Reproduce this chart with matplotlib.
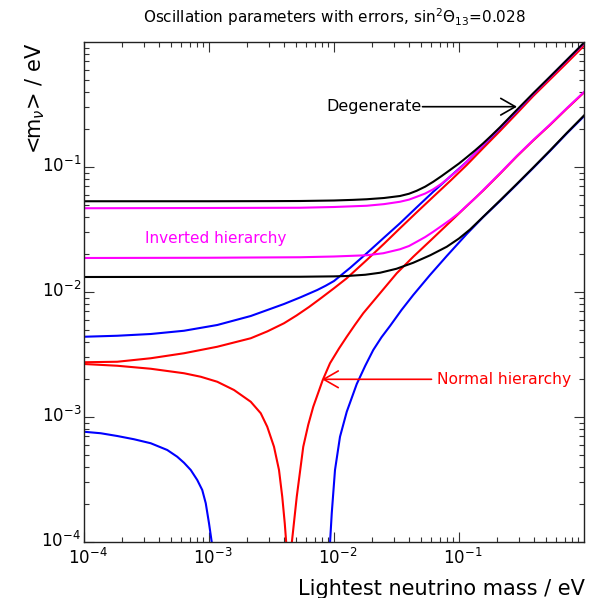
import numpy as np
import matplotlib
matplotlib.use("Agg")
import matplotlib.pyplot as plt
import matplotlib.transforms as mtransforms
from matplotlib.patches import ArrowStyle

# Effective Majorana mass <m_nu> versus the lightest neutrino mass.
# All curves are stored as log10 of the mass in eV (x: lightest mass, y: <m_nu>).

# Inverted hierarchy, outer band (black) and central band (magenta)
ih_max_ext_lx = [-4.0, -3.0, -2.5, -2.272, -2.0, -1.85, -1.738, -1.6, -1.472, -1.4, -1.338,
                 -1.27, -1.206, -1.14, -1.072, -1.0, -0.938, -0.87, -0.806, -0.74, -0.672,
                 -0.538, -0.406, -0.272, -0.138, 0.0]
ih_max_ext_ly = [-1.274, -1.274, -1.273, -1.272, -1.268, -1.263, -1.258, -1.248, -1.232, -1.214,
                 -1.190, -1.157, -1.118, -1.073, -1.024, -0.972, -0.922, -0.866, -0.810, -0.748,
                 -0.682, -0.544, -0.410, -0.278, -0.144, -0.006]

ih_max_lx = [-4.0, -3.0, -2.272, -2.0, -1.738, -1.6, -1.472, -1.4, -1.338, -1.27, -1.206,
             -1.14, -1.072, -1.0, -0.938, -0.858, -0.806, -0.74, -0.672, -0.538, -0.406,
             -0.272, -0.138, 0.0]
ih_max_ly = [-1.330, -1.328, -1.326, -1.320, -1.310, -1.297, -1.278, -1.261, -1.238, -1.212,
             -1.178, -1.134, -1.078, -1.018, -0.958, -0.876, -0.822, -0.754, -0.688, -0.550,
             -0.416, -0.284, -0.150, -0.012]

ih_min_lx = [-4.0, -3.0, -2.272, -2.0, -1.738, -1.606, -1.472, -1.4, -1.338, -1.27, -1.206,
             -1.14, -1.072, -1.0, -0.938, -0.87, -0.806, -0.74, -0.672, -0.538, -0.406,
             -0.272, -0.138, 0.0]
ih_min_ly = [-1.728, -1.726, -1.722, -1.716, -1.706, -1.690, -1.658, -1.632, -1.598, -1.560,
             -1.518, -1.472, -1.424, -1.368, -1.310, -1.248, -1.184, -1.118, -1.050, -0.912,
             -0.784, -0.660, -0.530, -0.400]

ih_min_ext_lx = [-4.0, -3.0, -2.272, -2.0, -1.898, -1.75, -1.632, -1.5, -1.366, -1.23, -1.098,
                 -1.0, -0.912, -0.8, -0.672, -0.538, -0.406, -0.272, -0.138, 0.0]
ih_min_ext_ly = [-1.880, -1.879, -1.878, -1.875, -1.872, -1.862, -1.846, -1.814, -1.766, -1.706,
                 -1.638, -1.572, -1.500, -1.392, -1.268, -1.136, -1.004, -0.868, -0.728, -0.588]

# Normal hierarchy, outer band (blue)
nh_max_ext_lx = [-4.0, -3.734, -3.466, -3.2, -2.934, -2.666, -2.4, -2.267, -2.134, -2.067, -2.0,
                 -1.87, -1.738, -1.6, -1.472, -1.34, -1.206, -1.07, -0.938, -0.806, -0.672,
                 -0.538, -0.406, -0.272, -0.138, 0.0]
nh_max_ext_ly = [-2.358, -2.350, -2.336, -2.310, -2.264, -2.192, -2.096, -2.042, -1.984, -1.950,
                 -1.912, -1.806, -1.690, -1.565, -1.450, -1.324, -1.198, -1.076, -0.958, -0.826,
                 -0.692, -0.554, -0.416, -0.280, -0.146, -0.008]

nh_min_ext_a_lx = [-4.0, -3.866, -3.734, -3.6, -3.466, -3.334, -3.254, -3.2, -3.146, -3.094,
                   -3.054, -3.026, -3.0, -2.978, -2.970]
nh_min_ext_a_ly = [-3.118, -3.130, -3.152, -3.178, -3.210, -3.264, -3.318, -3.366, -3.424, -3.504,
                   -3.584, -3.690, -3.850, -4.002, -5.0]

nh_min_ext_b_lx = [-2.036, -2.032, -2.018, -1.992, -1.952, -1.898, -1.818, -1.75, -1.686, -1.62,
                   -1.552, -1.46, -1.366, -1.232, -1.098, -0.938, -0.806, -0.672, -0.538,
                   -0.406, -0.272, -0.138, 0.0]
nh_min_ext_b_ly = [-5.0, -4.010, -3.770, -3.424, -3.158, -2.958, -2.736, -2.590, -2.464, -2.362,
                   -2.272, -2.144, -2.024, -1.864, -1.712, -1.536, -1.400, -1.272, -1.140,
                   -1.008, -0.872, -0.732, -0.594]

# Normal hierarchy, central band (red)
nh_max_lx = [-4.0, -3.734, -3.466, -3.2, -2.934, -2.666, -2.533, -2.4, -2.3, -2.2, -2.1, -2.0,
             -1.898, -1.738, -1.6, -1.472, -1.34, -1.206, -1.07, -0.938, -0.806, -0.672,
             -0.538, -0.406, -0.272, -0.138, 0.0]
nh_max_ly = [-2.562, -2.558, -2.530, -2.490, -2.438, -2.370, -2.315, -2.250, -2.188, -2.120,
             -2.046, -1.970, -1.890, -1.744, -1.614, -1.490, -1.364, -1.238, -1.111, -0.984,
             -0.848, -0.712, -0.572, -0.432, -0.300, -0.168, -0.030]

nh_min_a_lx = [-4.0, -3.734, -3.466, -3.2, -3.066, -2.934, -2.8, -2.666, -2.586, -2.534,
               -2.48, -2.44, -2.414, -2.394, -2.382, -2.376]
nh_min_a_ly = [-2.576, -2.590, -2.614, -2.650, -2.678, -2.718, -2.784, -2.878, -2.970, -3.078,
               -3.238, -3.424, -3.638, -3.850, -4.008, -5.0]

nh_min_b_lx = [-2.350, -2.338, -2.298, -2.246, -2.206, -2.166, -2.090, -2.032, -1.96, -1.898,
               -1.832, -1.766, -1.632, -1.498, -1.366, -1.232, -1.072, -0.938, -0.806, -0.672,
               -0.538, -0.406, -0.272, -0.138, 0.0]
nh_min_b_ly = [-5.0, -4.010, -3.638, -3.238, -3.062, -2.918, -2.704, -2.570, -2.452, -2.358,
               -2.262, -2.170, -2.010, -1.850, -1.718, -1.592, -1.440, -1.312, -1.188, -1.054,
               -0.916, -0.788, -0.664, -0.534, -0.404]

title_text = r"Oscillation parameters with errors, sin$^{2}\Theta_{13}$=0.028"
x_title = "Lightest neutrino mass / eV"
y_title = r"<m$_{\nu}$> / eV"

BLACK, MAGENTA, BLUE, RED = "#000000", "#ff00ff", "#0000ff", "#ff0000"
LW = 1.5

fig = plt.figure(figsize=(5.97, 5.98), dpi=100)
W, H = 597.0, 598.0
ax = fig.add_axes([84 / W, 1 - 542 / H, 500 / W, 500 / H])


def curve(lx, ly, color):
    ax.plot(np.power(10.0, lx), np.power(10.0, ly), color=color, lw=LW,
            solid_joinstyle="round")


for lx, ly in [(nh_max_lx, nh_max_ly), (nh_min_a_lx, nh_min_a_ly), (nh_min_b_lx, nh_min_b_ly)]:
    curve(lx, ly, RED)
for lx, ly in [(nh_max_ext_lx, nh_max_ext_ly), (nh_min_ext_a_lx, nh_min_ext_a_ly),
               (nh_min_ext_b_lx, nh_min_ext_b_ly)]:
    curve(lx, ly, BLUE)
for lx, ly in [(ih_max_lx, ih_max_ly), (ih_min_lx, ih_min_ly)]:
    curve(lx, ly, MAGENTA)
for lx, ly in [(ih_max_ext_lx, ih_max_ext_ly), (ih_min_ext_lx, ih_min_ext_ly)]:
    curve(lx, ly, BLACK)

ax.set_xscale("log")
ax.set_yscale("log")
ax.set_xlim(1e-4, 1.0)
ax.set_ylim(1e-4, 1.0)

ax.tick_params(which="both", direction="in", top=True, right=True, width=0.8, color="#333333")
ax.tick_params(which="major", length=7, labelsize=12, pad=4)
ax.tick_params(axis="y", which="major", pad=2)
ax.tick_params(which="minor", length=3.5)
ax.set_xticks([1e-4, 1e-3, 1e-2, 1e-1])
ax.set_yticks([1e-4, 1e-3, 1e-2, 1e-1])
ax.xaxis.set_minor_formatter(plt.NullFormatter())
ax.yaxis.set_minor_formatter(plt.NullFormatter())
for s in ax.spines.values():
    s.set_linewidth(1.0)
    s.set_color("#222222")

# nudge the tick labels so the mantissa "10" sits on its tick
for lab in ax.get_xticklabels():
    lab.set_transform(lab.get_transform() +
                      mtransforms.ScaledTranslation(4 / 100, 0, fig.dpi_scale_trans))
for lab in ax.get_yticklabels():
    lab.set_transform(lab.get_transform() +
                      mtransforms.ScaledTranslation(0, 3 / 100, fig.dpi_scale_trans))

# titles
fig.text(334 / W, 1 - 17 / H, title_text, ha="center", va="center", fontsize=11)
fig.text(585 / W, 1 - 589 / H, x_title, ha="right", va="center", fontsize=15)
fig.text(35 / W, 1 - 43 / H, y_title, ha="center", va="top", rotation=90, fontsize=15)

# annotations (axes-fraction coordinates)
head = ArrowStyle("->", head_length=0.7, head_width=0.4)
ax.annotate("", xy=(0.866, 0.8706), xytext=(0.677, 0.8706), xycoords="axes fraction",
            arrowprops=dict(arrowstyle=head, color=BLACK, lw=1.2, mutation_scale=15,
                            shrinkA=0, shrinkB=0))
ax.text(0.4854, 0.872, "Degenerate", transform=ax.transAxes, ha="left", va="center",
        fontsize=11.5, color=BLACK)

ax.annotate("", xy=(0.476, 0.3254), xytext=(0.695, 0.3254), xycoords="axes fraction",
            arrowprops=dict(arrowstyle=head, color=RED, lw=1.2, mutation_scale=15,
                            shrinkA=0, shrinkB=0))
ax.text(0.7066, 0.3254, "Normal hierarchy", transform=ax.transAxes, ha="left", va="center",
        fontsize=11.2, color=RED)

ax.text(0.122, 0.608, "Inverted hierarchy", transform=ax.transAxes, ha="left", va="center",
        fontsize=11, color=MAGENTA)

fig.savefig("out.png", dpi=100)
